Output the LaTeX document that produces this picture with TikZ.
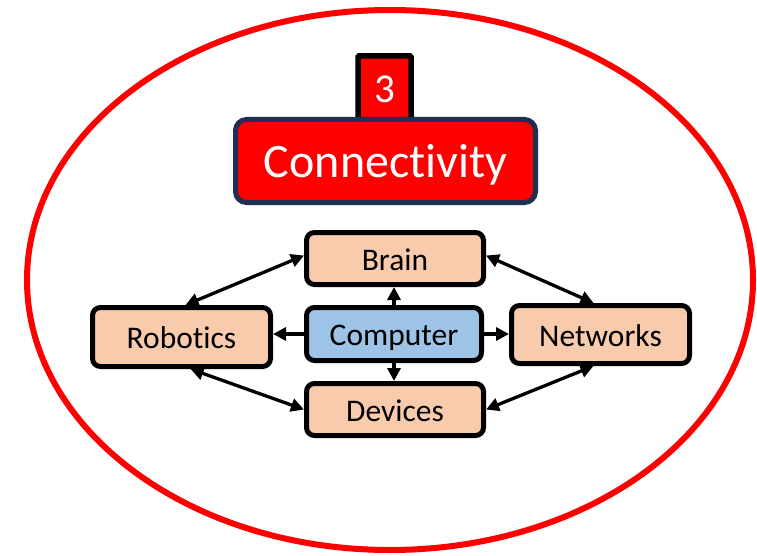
\documentclass[tikz,border=0pt]{standalone}
\usepackage{fontspec}
\setmainfont{Carlito}[RawFeature={-liga;-clig;-dlig}]
\usetikzlibrary{arrows.meta}
\definecolor{peach}{HTML}{F8CBAD}
\definecolor{lblue}{HTML}{9DC3E6}
\definecolor{navy}{HTML}{1F2F52}
\definecolor{pred}{HTML}{FF0000}
\tikzset{
  box/.style={draw=black, line width=5pt, rounded corners=8pt, fill=peach,
    font=\fontsize{31.5}{36}\selectfont, inner sep=0pt, text height=23pt, text depth=0pt},
  conn/.style={line width=3.3pt, draw=black},
  tip/.style={-{Triangle[length=13pt,width=13pt]}},
  bitip/.style={{Triangle[length=13pt,width=13pt]}-{Triangle[length=13pt,width=13pt]}}
}
\begin{document}
\begin{tikzpicture}[x=1pt,y=-1pt]
\useasboundingbox (0,0) rectangle (757,556);
\draw[pred, line width=6pt] (390,280) ellipse [x radius=363, y radius=270];
% number tab
\draw[fill=pred, draw=black, line width=5.5pt, rounded corners=1pt] (358,56) rectangle (411,140);
\node[text=white, font=\fontsize{41}{46}\selectfont, inner sep=0pt] (num) at (384.5,89) {3};
% title
\node[draw=navy, fill=pred, line width=5pt, rounded corners=11pt, minimum width=300pt, minimum height=83pt,
  text=white, font=\fontsize{48}{56}\selectfont, inner sep=0pt, text height=33pt, text depth=0pt] (title) at (385.5,161) {Connectivity};
% nodes
\node[box, minimum width=177pt, minimum height=52pt] (brain) at (395,258.5) {Brain};
\node[box, fill=lblue, minimum width=175pt, minimum height=53pt] (comp) at (394,334) {Computer};
\node[box, minimum width=177pt, minimum height=52pt] (dev) at (395,409.5) {Devices};
\node[box, minimum width=178pt, minimum height=59pt] (rob) at (181.5,337) {Robotics};
\node[box, minimum width=178pt, minimum height=58pt] (net) at (600.5,334.5) {Networks};
% connectors
\draw[conn, bitip] ([xshift=4pt]rob.north) -- ([yshift=3pt]brain.west);
\draw[conn, bitip] ([xshift=9pt]rob.south) -- (dev.west);
\draw[conn, bitip] ([yshift=3pt]brain.east) -- ([xshift=-7pt]net.north);
\draw[conn, bitip] ([xshift=-7pt]net.south) -- (dev.east);
\draw[conn, tip] (comp.north) -- (comp.north |- brain.south);
\draw[conn, tip] (comp.south) -- (comp.south |- dev.north);
\draw[conn, tip] (comp.west) -- (comp.west -| rob.east);
\draw[conn, tip] (comp.east) -- (comp.east -| net.west);
\end{tikzpicture}
\end{document}
